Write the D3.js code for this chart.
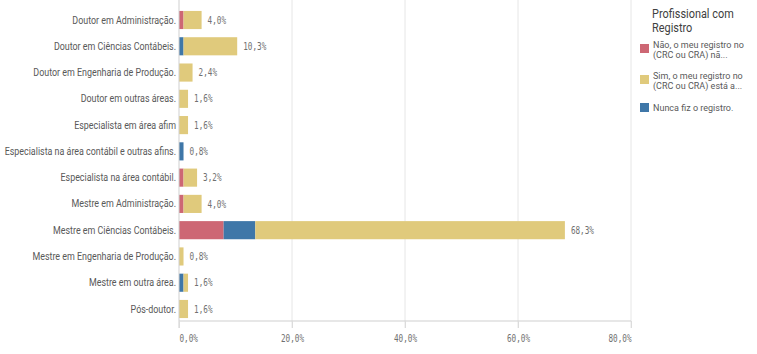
<!DOCTYPE html>
<html><head><meta charset="utf-8">
<script src="https://cdn.jsdelivr.net/npm/d3@7"></script>
<style>
body{margin:0;background:#fff;}
svg{display:block;}
</style></head>
<body>
<svg id="c" width="757" height="354"></svg>
<script>
const categories = [
  "Doutor em Administração.",
  "Doutor em Ciências Contábeis.",
  "Doutor em Engenharia de Produção.",
  "Doutor em outras áreas.",
  "Especialista em área afim",
  "Especialista na área contábil e outras afins.",
  "Especialista na área contábil.",
  "Mestre em Administração.",
  "Mestre em Ciências Contábeis.",
  "Mestre em Engenharia de Produção.",
  "Mestre em outra área.",
  "Pós-doutor."
];
const seriesNames = [
  "Não, o meu registro no (CRC ou CRA) nã...",
  "Nunca fiz o registro.",
  "Sim, o meu registro no (CRC ou CRA) está a..."
];
// values in % of respondents
const naoValues   = [0.8, 0,   0,   0,   0,   0,   0.8, 0.8, 7.9, 0,   0,   0  ];
const nuncaValues = [0,   0.8, 0,   0,   0,   0.8, 0,   0,   5.6, 0,   0.8, 0  ];
const simValues   = [3.2, 9.5, 2.4, 1.6, 1.6, 0,   2.4, 3.2, 54.8,0.8, 0.8, 1.6];
const totalLabels = ["4,0%","10,3%","2,4%","1,6%","1,6%","0,8%","3,2%","4,0%","68,3%","0,8%","1,6%","1,6%"];
const xTicks = [0, 20, 40, 60, 80];
const legendOrder = [0, 2, 1];
const colors = ["#cd6774", "#3f77a8", "#e0ca7c"];

const svg = d3.select("#c");
const x = d3.scaleLinear().domain([0, 80]).range([179, 631]);
const y = d3.scaleBand().domain(categories).range([7, 322]).paddingInner(0.31).paddingOuter(0.15);

// gridlines
svg.append("g").selectAll("line").data(xTicks.slice(1)).join("line")
  .attr("x1", d => x(d)).attr("x2", d => x(d))
  .attr("y1", 0).attr("y2", 328)
  .attr("stroke", "#e6e6e6").attr("stroke-width", 1);

// stacked bars
const stackData = categories.map((c, i) => ({cat: c, s0: naoValues[i], s1: nuncaValues[i], s2: simValues[i]}));
const stack = d3.stack().keys(["s0", "s1", "s2"])(stackData);
svg.append("g").selectAll("g").data(stack).join("g")
  .attr("fill", (d, i) => colors[i])
  .selectAll("rect").data(d => d.filter(p => p[1] - p[0] > 0)).join("rect")
  .attr("x", p => x(p[0]))
  .attr("width", p => x(p[1]) - x(p[0]))
  .attr("y", p => y(p.data.cat))
  .attr("height", y.bandwidth());

// value labels (narrow monospace look via horizontal scale)
svg.append("g").selectAll("text").data(stackData).join("text")
  .attr("transform", d => `translate(${x(d.s0 + d.s1 + d.s2) + 6},${y(d.cat) + y.bandwidth() / 2}) scale(0.73,1)`)
  .attr("dy", "0.35em")
  .attr("font-family", "DejaVu Sans Mono")
  .attr("font-size", 10.5)
  .attr("fill", "#707070")
  .text((d, i) => totalLabels[i]);

// y axis line
svg.append("line").attr("x1", 179).attr("x2", 179).attr("y1", 0).attr("y2", 328)
  .attr("stroke", "#cfcfcf");

// category labels
const yAxis = svg.append("g").attr("transform", "translate(176,0)")
  .call(d3.axisLeft(y).tickSize(0).tickPadding(0));
yAxis.select(".domain").remove();
yAxis.selectAll("text").attr("font-family", "Roboto, sans-serif").attr("font-size", 11)
  .attr("fill", "#595959").attr("x", 0).attr("transform", "scale(0.81,1)");

// x axis
const xAxis = svg.append("g").attr("transform", "translate(0,321)")
  .call(d3.axisBottom(x).tickValues(xTicks).tickSize(7).tickPadding(7)
    .tickFormat(d => d3.format(".1f")(d).replace(".", ",") + "%"));
xAxis.select(".domain").attr("stroke", "#cfcfcf").attr("d", "M179,0H631");
xAxis.selectAll(".tick line").attr("stroke", "#dcdcdc");
xAxis.selectAll(".tick text").attr("font-family", "DejaVu Sans Mono").attr("font-size", 10.5)
  .attr("fill", "#707070")
  .attr("text-anchor", (d, i) => i === 0 ? "start" : (i === xTicks.length - 1 ? "end" : "middle"))
  .attr("transform", "scale(0.73,1)")
  .attr("x", 0);

// legend
const lg = svg.append("g");
const title = ["Profissional com", "Registro"];
title.forEach((t, j) => {
  lg.append("text").attr("transform", `translate(652,${18 + j * 14}) scale(0.84,1)`)
    .attr("font-family", "Roboto, sans-serif")
    .attr("font-size", 13).attr("fill", "#404040").text(t);
});
const itemY = [41, 72, 104];
legendOrder.forEach((si, k) => {
  const g = lg.append("g").attr("transform", `translate(0,${itemY[k]})`);
  const name = seriesNames[si];
  const m = name.match(/^(.*? no) (\(.*)$/);
  const lines = m ? [m[1], m[2]] : [name];
  g.append("rect").attr("x", 640).attr("y", lines.length > 1 ? 3 : -1).attr("width", 9).attr("height", 9)
    .attr("fill", colors[si]);
  lines.forEach((ln, j) => {
    g.append("text").attr("transform", `translate(653,${6.5 + j * 10.5}) scale(0.95,1)`)
      .attr("font-family", "Roboto, sans-serif").attr("font-size", 9.5)
      .attr("fill", "#595959").text(ln);
  });
});
</script>
</body></html>
